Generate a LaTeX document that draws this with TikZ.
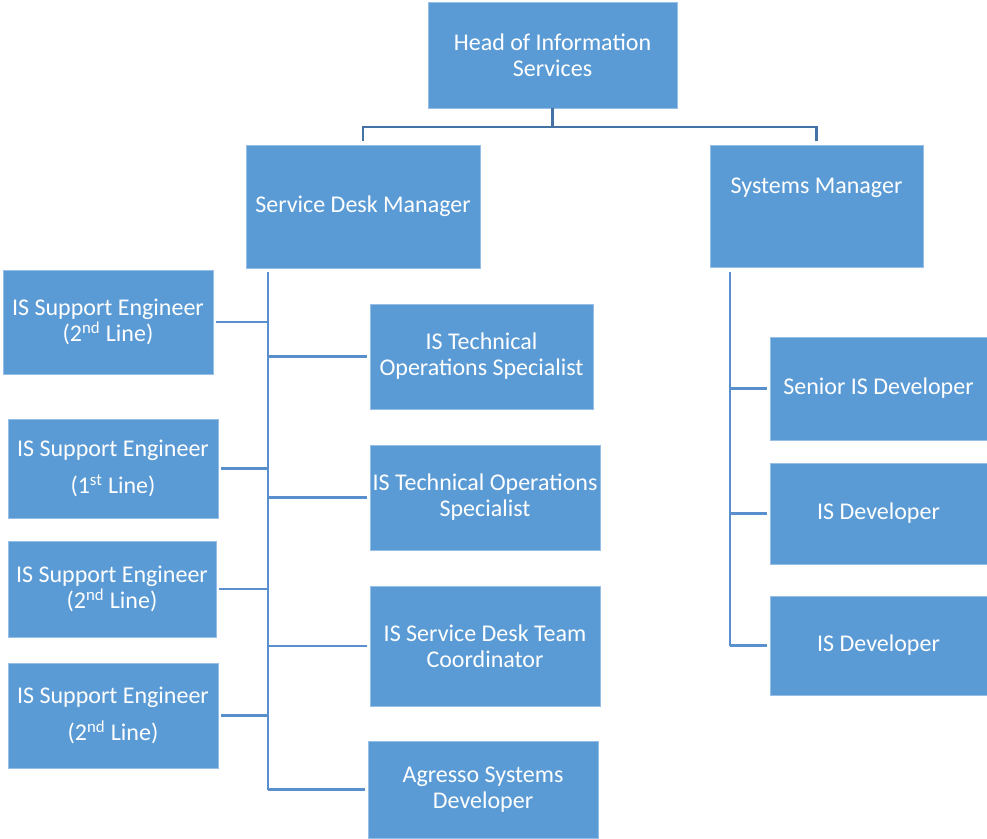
\documentclass[tikz,border=0pt]{standalone}
\usepackage{fontspec}
\setmainfont{Carlito}
\usepackage{xcolor}
\usepackage{tikz}
\usetikzlibrary{arrows.meta,positioning,calc}
\definecolor{unitblue}{RGB}{91,155,213}
\definecolor{unitedge}{RGB}{150,190,230}
\definecolor{toplink}{RGB}{68,114,165}
\definecolor{sidelink}{RGB}{88,143,204}

\begin{document}
\begin{tikzpicture}[x=0.75pt,y=-0.75pt]
  \tikzstyle{unit}=[rectangle,draw=unitedge,line width=0.6pt,fill=unitblue,text=white,inner sep=0pt,align=center,font=\fontsize{18}{19.5}\selectfont]
  \tikzstyle{link}=[line width=2.1pt,draw=sidelink]
  \useasboundingbox (0,0) rectangle (987,838);
  % top level
  \node[unit,minimum width=186.75pt,minimum height=79.5pt] (head) at (552.5,55) {Head of Information\\Services};
  \node[unit,minimum width=175.5pt,minimum height=92.25pt] (sdm) at (363,206.5) {Service Desk Manager};
  \node[unit,minimum width=159.75pt,minimum height=91.5pt,text depth=31pt] (sysm) at (816.5,206) {Systems Manager};
  % service desk, left column
  \node[unit,minimum width=157.5pt,minimum height=78pt] (eng1) at (108,322) {IS Support Engineer\\(2\textsuperscript{nd} Line)};
  \node[unit,minimum width=157.5pt,minimum height=74.25pt] (eng2) at (113,468.5) {IS Support Engineer\\[8pt](1\textsuperscript{st} Line)};
  \node[unit,minimum width=156pt,minimum height=72pt] (eng3) at (112,589) {IS Support Engineer\\(2\textsuperscript{nd} Line)};
  \node[unit,minimum width=157.5pt,minimum height=78.75pt] (eng4) at (113,715.5) {IS Support Engineer\\[8pt](2\textsuperscript{nd} Line)};
  % service desk, right column
  \node[unit,minimum width=167.25pt,minimum height=78.75pt] (ops1) at (481.5,356.5) {IS Technical\\Operations Specialist};
  \node[unit,minimum width=172.5pt,minimum height=78.75pt] (ops2) at (485,497.5) {IS Technical Operations\\Specialist};
  \node[unit,minimum width=172.5pt,minimum height=90pt] (coord) at (485,646) {IS Service Desk Team\\Coordinator};
  \node[unit,minimum width=172.5pt,minimum height=72.75pt] (agresso) at (483,789.5) {Agresso Systems\\Developer};
  % systems
  \node[unit,minimum width=162.75pt,minimum height=77.25pt] (dev1) at (878.5,388.5) {Senior IS Developer};
  \node[unit,minimum width=162.75pt,minimum height=75.75pt] (dev2) at (878.5,513.5) {IS Developer};
  \node[unit,minimum width=162.75pt,minimum height=74.25pt] (dev3) at (878.5,645.5) {IS Developer};
  % connectors
  \coordinate (split) at (552.5,127);
  \coordinate (ltrunk) at (268,272);
  \coordinate (rtrunk) at (730,272);
  \draw[link,draw=toplink,shorten >=3pt] (head.south) -- (split) -| (sdm.north);
  \draw[link,draw=toplink,shorten >=3pt] (split) -| (sysm.north);
  \draw[link] (ltrunk) -- (ltrunk |- agresso.west);
  \draw[link] (rtrunk) -- (rtrunk |- dev3.west);
  \draw[link,shorten <=2pt] (eng1.east) -- (eng1.east -| ltrunk);
  \draw[link,shorten <=2pt] (eng2.east) -- (eng2.east -| ltrunk);
  \draw[link,shorten <=2pt] (eng3.east) -- (eng3.east -| ltrunk);
  \draw[link,shorten <=2pt] (eng4.east) -- (eng4.east -| ltrunk);
  \draw[link,shorten <=2pt] (ops1.west) -- (ops1.west -| ltrunk);
  \draw[link,shorten <=2pt] (ops2.west) -- (ops2.west -| ltrunk);
  \draw[link,shorten <=2pt] (coord.west) -- (coord.west -| ltrunk);
  \draw[link,shorten <=2pt] (agresso.west) -- (agresso.west -| ltrunk);
  \draw[link,shorten <=2pt] (dev1.west) -- (dev1.west -| rtrunk);
  \draw[link,shorten <=2pt] (dev2.west) -- (dev2.west -| rtrunk);
  \draw[link,shorten <=2pt] (dev3.west) -- (dev3.west -| rtrunk);
\end{tikzpicture}
\end{document}
